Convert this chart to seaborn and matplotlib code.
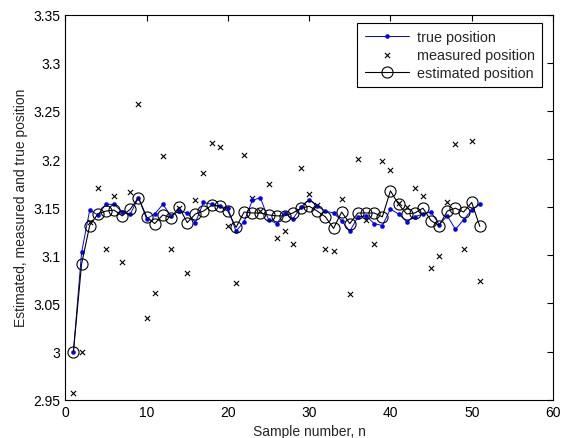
import numpy as np
import matplotlib
matplotlib.use("Agg")
import matplotlib.pyplot as plt
import seaborn as sns

# sample index and the three series
samples = list(range(1, 52))

true_pos = [3.000, 3.103, 3.147, 3.142, 3.153, 3.153, 3.145, 3.143, 3.160, 3.138,
            3.143, 3.153, 3.141, 3.146, 3.144, 3.134, 3.155, 3.153, 3.151, 3.149,
            3.125, 3.135, 3.157, 3.160, 3.137, 3.133, 3.144, 3.138, 3.150, 3.158,
            3.151, 3.146, 3.144, 3.136, 3.125, 3.140, 3.141, 3.133, 3.131, 3.148,
            3.143, 3.135, 3.140, 3.143, 3.145, 3.132, 3.141, 3.127, 3.137, 3.147,
            3.153]

measured_pos = [2.957, 3.000, 3.135, 3.170, 3.107, 3.162, 3.093, 3.166, 3.257, 3.035,
                3.061, 3.203, 3.107, 3.149, 3.082, 3.157, 3.186, 3.217, 3.213, 3.131,
                3.071, 3.204, 3.160, 3.146, 3.174, 3.118, 3.125, 3.112, 3.191, 3.164,
                3.152, 3.107, 3.104, 3.159, 3.060, 3.200, 3.137, 3.112, 3.198, 3.189,
                3.154, 3.150, 3.170, 3.162, 3.087, 3.099, 3.155, 3.216, 3.107, 3.219,
                3.073]

estimated_pos = [3.000, 3.091, 3.131, 3.143, 3.146, 3.147, 3.141, 3.148, 3.160, 3.140,
                 3.133, 3.142, 3.139, 3.150, 3.134, 3.143, 3.146, 3.152, 3.151, 3.146,
                 3.129, 3.145, 3.144, 3.144, 3.142, 3.141, 3.141, 3.144, 3.149, 3.151,
                 3.146, 3.140, 3.128, 3.145, 3.133, 3.144, 3.144, 3.144, 3.140, 3.167,
                 3.153, 3.143, 3.144, 3.149, 3.136, 3.131, 3.146, 3.149, 3.145, 3.155,
                 3.130]

sns.set_style("white")
plt.rcParams['font.family'] = ['Liberation Sans', 'DejaVu Sans']
plt.rcParams['font.size'] = 10

fig = plt.figure(figsize=(5.64, 4.39), dpi=100)
ax = fig.add_axes([0.1158, 0.0872, 0.8647, 0.877])

sns.lineplot(x=samples, y=true_pos, color='blue', linewidth=0.7, marker='o',
             markersize=3.3, markeredgewidth=0, label='true position', ax=ax)
sns.scatterplot(x=samples, y=measured_pos, color='black', marker='x', s=14,
                linewidth=0.8, label='measured position', ax=ax)
sns.lineplot(x=samples, y=estimated_pos, color='black', linewidth=0.8, marker='o',
             markersize=8, markerfacecolor='none', markeredgecolor='black',
             markeredgewidth=0.8, label='estimated position', ax=ax)

ax.set_xlim(0, 60)
ax.set_ylim(2.95, 3.35)
ax.set_xticks(np.arange(0, 61, 10))
ax.set_yticks(np.arange(2.95, 3.351, 0.05))
ax.set_yticklabels(['%g' % round(v, 2) for v in np.arange(2.95, 3.351, 0.05)])
ax.tick_params(direction='in', top=True, right=True, length=4, width=0.8,
               labelsize=10, colors='black')
for s in ax.spines.values():
    s.set_color('black')
    s.set_linewidth(0.8)

ax.set_xlabel('Sample number, n', fontsize=10)
ax.set_ylabel('Estimated, measured and true position', fontsize=10)

leg = ax.legend(loc='upper right', bbox_to_anchor=(0.977, 0.978), borderaxespad=0,
                fancybox=False, framealpha=1, edgecolor='black', handlelength=3.1,
                fontsize=10.4, borderpad=0.5, labelspacing=0.25, handletextpad=0.5)
leg.get_frame().set_linewidth(0.8)

fig.savefig('out.png', dpi=100)
